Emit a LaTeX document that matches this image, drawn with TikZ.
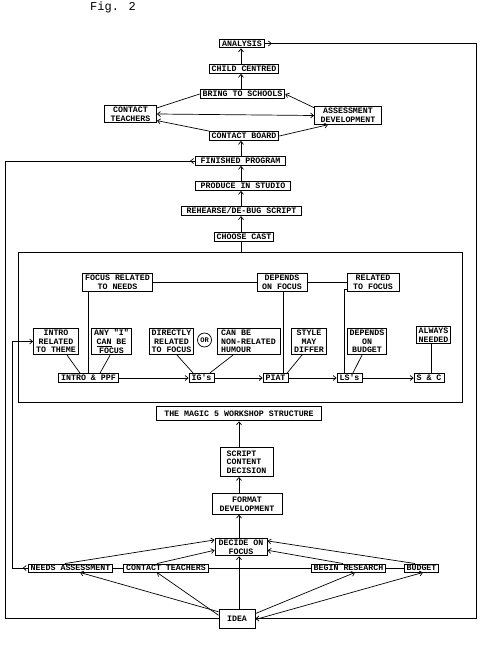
\documentclass[tikz,border=0pt]{standalone}
\usepackage{fontspec}
\newfontfamily\tw{Liberation Mono}
\usetikzlibrary{arrows.meta,calc,decorations.markings}
\begin{document}
\begin{tikzpicture}[x=1pt,y=-1pt,
  >={Straight Barb[length=3pt,width=5pt]},
  box/.style={draw,line width=0.9pt,font=\tw\bfseries\fontsize{8.3}{8.7}\selectfont,inner xsep=2.5pt,inner ysep=1.6pt,align=center},
  conn/.style={line width=0.7pt},
  startarrow/.style={postaction={decorate,decoration={markings,mark=at position #1 with {\arrow{Straight Barb[length=3pt,width=5pt]}}}}}
]
\useasboundingbox (0,0) rectangle (485,645);
\coordinate (sp) at (241,0);
\coordinate (sp2) at (239,0);
\coordinate (L1) at (5,0);
\coordinate (L2) at (12,0);
\coordinate (R1) at (476,0);

\node[font=\tw\fontsize{12}{12}\selectfont,anchor=base west,inner sep=0pt] (fig) at (90,10) {Fig. 2};

% top part
\node[box] (ana) at (242,43.5) {ANALYSIS};
\node[box] (child) at (244,69) {CHILD CENTRED};
\node[box] (bring) at (242.5,94) {BRING TO SCHOOLS};
\node[box,minimum width=52pt] (ct1) at (130.5,114) {CONTACT\\TEACHERS};
\node[box,minimum width=67pt] (ad) at (348,115.5) {ASSESSMENT\\DEVELOPMENT};
\node[box] (cb) at (244,136) {CONTACT BOARD};
\node[box,minimum width=90pt] (fin) at (240.5,161) {FINISHED PROGRAM};
\node[box,minimum width=95pt] (prod) at (243,186) {PRODUCE IN STUDIO};
\node[box,minimum width=120pt] (reh) at (241.5,211) {REHEARSE/DE-BUG SCRIPT};
\node[box] (cast) at (244,237) {CHOOSE CAST};

% workshop structure
\node[draw,line width=0.9pt,minimum width=444pt,minimum height=150pt,inner sep=0pt] (big) at (240,327) {};
\node[box] (frn) at (117.5,282.5) {FOCUS RELATED\\TO NEEDS};
\node[box,minimum width=50pt] (dof) at (282,282.5) {DEPENDS\\ON FOCUS};
\node[box,minimum width=52pt] (rtf) at (373,282.5) {RELATED\\TO FOCUS};

\node[box] (irt) at (56,341.5) {INTRO\\RELATED\\TO THEME};
\node[box] (anyi) at (111.5,341.5) {ANY "I"\\\underline{CAN} BE\\FOCUS};
\node[box] (drf) at (171.5,341.5) {DIRECTLY\\RELATED\\TO FOCUS};
\node[draw,circle,line width=0.7pt,minimum size=14pt,inner sep=0pt,font=\tw\bfseries\fontsize{7}{7}\selectfont] (or) at (204.5,340) {OR};
\node[box,align=left,minimum width=63pt] (nrh) at (248.5,341.5) {CAN BE\\NON-RELATED\\HUMOUR};
\node[box] (smd) at (309,341.5) {STYLE\\MAY\\DIFFER};
\node[box] (dob) at (367,341.5) {DEPENDS\\ON\\BUDGET};
\node[box] (an) at (433.5,335) {ALWAYS\\NEEDED};

\node[box] (ipp) at (88.5,378) {INTRO \& PPF};
\node[box] (igs) at (201.5,378) {IG's};
\node[box] (piat) at (275.5,378) {PIAT};
\node[box] (lss) at (349.5,378) {LS's};
\node[box] (sc) at (429,378) {S \& C};

% lower part
\node[box,inner xsep=8pt,inner ysep=4.5pt] (magic) at (239,413.5) {THE MAGIC 5 WORKSHOP STRUCTURE};
\node[box,align=left,minimum width=53pt,inner ysep=3pt] (scd) at (246.5,462) {SCRIPT\\CONTENT\\DECISION};
\node[box,minimum width=70pt,inner ysep=3pt] (fd) at (247,504) {FORMAT\\DEVELOPMENT};
\node[box,minimum width=52pt] (dec) at (241,547) {DECIDE ON\\FOCUS};
\node[box,inner ysep=1.2pt] (na) at (70.5,568) {NEEDS ASSESSMENT};
\node[box,inner ysep=1.2pt] (ct2) at (166,568) {CONTACT TEACHERS};
\node[box,inner ysep=1.2pt] (br) at (348.5,568) {BEGIN RESEARCH};
\node[box,inner ysep=1.2pt] (bud) at (421.5,568) {BUDGET};
\node[box,minimum width=36pt,minimum height=19pt] (idea) at (237,618.5) {IDEA};

% connectors top
\draw[conn,->] (child.north -| sp) -- (ana.south -| sp);
\draw[conn,->] (bring.north -| sp) -- (child.south -| sp);
\draw[conn] (ct1.13) -- (bring.west);
\draw[conn,->] (ad.167) -- (bring.east);
\draw[conn,<->] (ct1.east) -- (ad.west);
\draw[conn,->] (cb.172) -- (ct1.-14);
\draw[conn,->] (cb.east) -- ([xshift=-20pt]ad.south);
\draw[conn,->] (fin.north -| sp) -- (cb.south -| sp);
\draw[conn,->] (prod.north -| sp) -- (fin.south -| sp);
\draw[conn,->] (reh.north -| sp) -- (prod.south -| sp);
\draw[conn,->] (cast.north -| sp) -- (reh.south -| sp);
\draw[conn] (big.north -| sp) -- (cast.south -| sp);

% workshop connectors
\draw[conn] (frn.east) -- (dof.west);
\draw[conn] (dof.east) -- (rtf.west);
\draw[conn] ([xshift=-29.5pt]frn.south) -- ([xshift=-0.5pt]ipp.north);
\draw[conn] ([xshift=1pt]dof.south) -- ([xshift=7.5pt]piat.north);
\draw[conn] (rtf.195) -| ([xshift=-5.5pt]lss.north);
\draw[conn] ([xshift=11pt]irt.south) -- ([xshift=-8.5pt]ipp.north);
\draw[conn] ([xshift=-1.5pt]anyi.south) -- ([xshift=11.5pt]ipp.north);
\draw[conn] ([xshift=5.5pt]drf.south) -- ([xshift=-8.5pt]igs.north);
\draw[conn] ([xshift=-15.5pt]nrh.south) -- ([xshift=8.5pt]igs.north);
\draw[conn] ([xshift=-7pt]smd.south) -- ([xshift=11.5pt]piat.north);
\draw[conn] ([xshift=-5pt]dob.south) -- ([xshift=3.5pt]lss.north);
\draw[conn] ([xshift=-2.5pt]an.south) -- ([xshift=2pt]sc.north);
\draw[conn,->] (ipp.east) -- (igs.west);
\draw[conn,->] (igs.east) -- (piat.west);
\draw[conn,->] (piat.east) -- (lss.west);
\draw[conn,->] (lss.east) -- (sc.west);

% lower connectors
\draw[conn,->] (scd.north -| sp2) -- (magic.south -| sp2);
\draw[conn,->] (fd.north -| sp2) -- (scd.south -| sp2);
\draw[conn,->] (dec.north -| sp2) -- (fd.south -| sp2);
\draw[conn,->] (idea.north -| sp2) -- (dec.south -| sp2);
\draw[conn] (na.east) -- (ct2.west);
\draw[conn] (ct2.east) -- (br.west);
\draw[conn] (br.east) -- (bud.west);
\draw[conn,->] ([xshift=-5.5pt]na.north) -- (dec.165);
\draw[conn,->] ([xshift=-9pt]ct2.north) -- (dec.187);
\draw[conn,->] ([xshift=-5.5pt]br.north) -- (dec.-7);
\draw[conn,->] ([xshift=-6.5pt]bud.north) -- (dec.13);
\draw[conn,->] (idea.160) -- ([xshift=9.5pt]na.south);
\draw[conn,->] (idea.170) -- ([xshift=-9pt]ct2.south);
\draw[conn,->] (idea.15) -- ([xshift=6.5pt]br.south);
\draw[conn,->] (idea.-3) -- ([xshift=1.5pt]bud.south);

% loops
\draw[conn,startarrow=5pt] (fin.west) -| (L1 |- idea.west) -- (idea.west);
\draw[conn,->,startarrow=5pt] (na.west) -| (L2 |- irt.west) -- (irt.west);
\draw[conn,->,startarrow=7pt] (ana.east) -| (R1 |- idea.east) -- (idea.east);
\end{tikzpicture}
\end{document}
